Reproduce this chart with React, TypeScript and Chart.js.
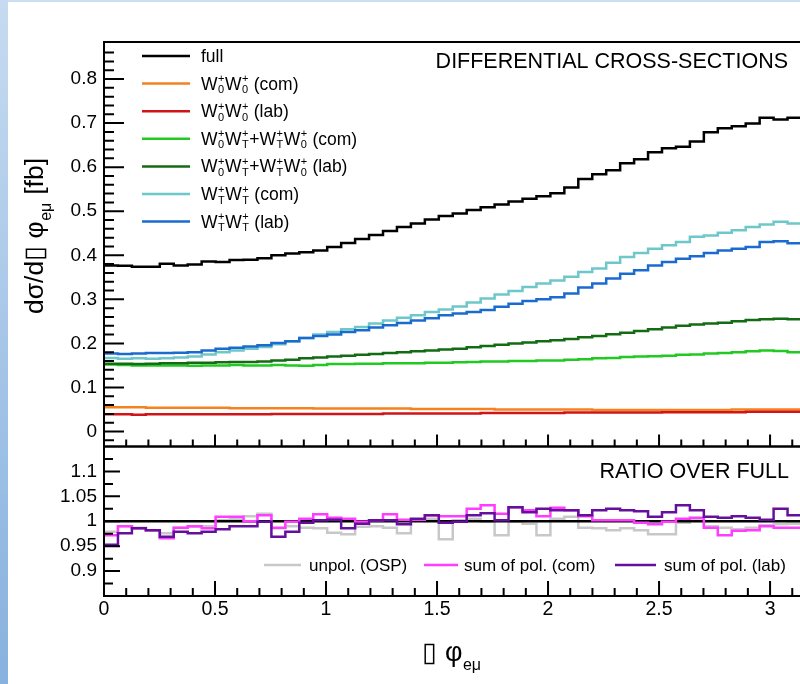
import React, { useEffect, useRef } from "react";
import { Chart, registerables } from "chart.js";

Chart.register(...registerables);

// ---------------- data ----------------
const N_BINS = 50;
const X_MAX = Math.PI;
const BIN_EDGES = Array.from({ length: N_BINS + 1 }, (_, i) => (i * X_MAX) / N_BINS);

const X_TICKS = [0, 0.5, 1, 1.5, 2, 2.5, 3];
const Y_TICKS = [0, 0.1, 0.2, 0.3, 0.4, 0.5, 0.6, 0.7, 0.8];
const RATIO_TICKS = [0.9, 0.95, 1, 1.05, 1.1];

const FULL = [0.377, 0.376, 0.374, 0.374, 0.381, 0.377, 0.379, 0.386, 0.385, 0.389, 0.390, 0.393, 0.400, 0.404, 0.407, 0.411, 0.419, 0.428, 0.437, 0.446, 0.455, 0.464, 0.472, 0.481, 0.489, 0.495, 0.503, 0.509, 0.515, 0.522, 0.528, 0.534, 0.541, 0.554, 0.573, 0.584, 0.593, 0.609, 0.618, 0.634, 0.643, 0.646, 0.658, 0.679, 0.688, 0.693, 0.699, 0.712, 0.708, 0.712];
const W00_COM = [0.055, 0.055, 0.055, 0.054, 0.054, 0.054, 0.054, 0.054, 0.054, 0.053, 0.053, 0.053, 0.053, 0.053, 0.053, 0.052, 0.052, 0.052, 0.052, 0.052, 0.052, 0.052, 0.051, 0.051, 0.051, 0.051, 0.051, 0.051, 0.050, 0.050, 0.050, 0.050, 0.050, 0.050, 0.050, 0.049, 0.049, 0.049, 0.049, 0.049, 0.049, 0.049, 0.049, 0.049, 0.049, 0.050, 0.050, 0.050, 0.050, 0.050];
const W00_LAB = [0.039, 0.039, 0.038, 0.039, 0.039, 0.039, 0.039, 0.039, 0.039, 0.039, 0.039, 0.039, 0.040, 0.040, 0.040, 0.040, 0.040, 0.040, 0.040, 0.040, 0.041, 0.041, 0.041, 0.041, 0.041, 0.041, 0.041, 0.042, 0.042, 0.042, 0.042, 0.042, 0.042, 0.043, 0.043, 0.043, 0.043, 0.043, 0.043, 0.043, 0.044, 0.044, 0.044, 0.044, 0.044, 0.044, 0.045, 0.045, 0.045, 0.045];
const W0T_COM = [0.152, 0.151, 0.150, 0.150, 0.150, 0.150, 0.149, 0.150, 0.150, 0.151, 0.150, 0.150, 0.151, 0.150, 0.149, 0.151, 0.153, 0.153, 0.154, 0.154, 0.155, 0.155, 0.155, 0.156, 0.156, 0.157, 0.158, 0.159, 0.159, 0.160, 0.160, 0.161, 0.161, 0.163, 0.164, 0.166, 0.167, 0.169, 0.170, 0.171, 0.172, 0.174, 0.175, 0.177, 0.178, 0.180, 0.182, 0.184, 0.183, 0.180];
const W0T_LAB = [0.154, 0.154, 0.153, 0.154, 0.155, 0.155, 0.156, 0.156, 0.157, 0.158, 0.158, 0.159, 0.161, 0.163, 0.166, 0.168, 0.170, 0.172, 0.174, 0.176, 0.178, 0.180, 0.182, 0.184, 0.186, 0.188, 0.191, 0.194, 0.197, 0.200, 0.202, 0.205, 0.207, 0.210, 0.214, 0.217, 0.221, 0.224, 0.228, 0.232, 0.236, 0.240, 0.243, 0.245, 0.247, 0.250, 0.253, 0.255, 0.256, 0.255];
const WTT_COM = [0.167, 0.165, 0.166, 0.165, 0.166, 0.168, 0.170, 0.175, 0.180, 0.184, 0.188, 0.192, 0.198, 0.205, 0.212, 0.220, 0.226, 0.232, 0.237, 0.245, 0.252, 0.258, 0.264, 0.271, 0.277, 0.284, 0.293, 0.302, 0.311, 0.319, 0.328, 0.336, 0.343, 0.351, 0.362, 0.370, 0.383, 0.396, 0.405, 0.415, 0.423, 0.430, 0.442, 0.445, 0.451, 0.457, 0.464, 0.470, 0.476, 0.472];
const WTT_LAB = [0.177, 0.176, 0.177, 0.178, 0.178, 0.179, 0.180, 0.184, 0.188, 0.190, 0.193, 0.196, 0.201, 0.205, 0.212, 0.217, 0.220, 0.226, 0.230, 0.236, 0.241, 0.246, 0.252, 0.257, 0.264, 0.268, 0.271, 0.276, 0.283, 0.290, 0.296, 0.300, 0.305, 0.313, 0.327, 0.336, 0.347, 0.358, 0.366, 0.377, 0.385, 0.392, 0.398, 0.405, 0.411, 0.415, 0.419, 0.430, 0.432, 0.427];

const RATIO_UNPOL = [0.979, 0.990, 0.987, 0.982, 0.976, 0.987, 0.989, 0.990, 1.002, 1.005, 1.010, 1.015, 0.986, 0.990, 0.987, 0.986, 0.977, 0.974, 0.989, 0.990, 0.987, 0.976, 1.002, 1.005, 0.964, 1.002, 1.005, 0.999, 0.972, 0.999, 0.995, 0.972, 1.005, 1.009, 0.987, 0.986, 0.982, 0.986, 0.982, 0.974, 0.974, 0.997, 1.002, 0.990, 0.987, 0.984, 0.987, 0.992, 0.994, 0.995];
const RATIO_SUM_COM = [0.972, 0.990, 0.986, 0.982, 0.966, 0.987, 0.990, 0.986, 1.009, 1.009, 1.000, 1.012, 0.987, 0.999, 1.005, 1.014, 1.007, 1.005, 0.999, 1.002, 1.014, 1.003, 1.003, 1.012, 1.010, 1.010, 1.025, 1.032, 1.015, 1.028, 1.022, 1.010, 1.027, 1.022, 1.010, 1.002, 1.002, 1.002, 0.997, 0.994, 0.999, 1.005, 1.007, 0.987, 0.972, 0.981, 0.982, 0.990, 0.987, 0.987];
const RATIO_SUM_LAB = [0.953, 0.976, 0.986, 0.982, 0.969, 0.979, 0.976, 0.979, 0.984, 0.990, 0.990, 0.999, 0.969, 0.979, 0.997, 1.002, 1.003, 0.986, 0.995, 1.002, 1.002, 0.994, 1.005, 1.012, 0.997, 0.999, 1.012, 1.016, 1.002, 1.028, 1.018, 1.025, 1.022, 1.022, 1.012, 1.022, 1.025, 1.022, 1.020, 1.009, 1.018, 1.032, 1.022, 1.009, 1.007, 1.010, 1.007, 1.003, 1.025, 1.012];
const RATIO_FULL = FULL.map((v) => v / v);

const UPPER_RANGE = [-0.034, 0.884];
const RATIO_RANGE = [0.85, 1.15];

// ---------------- styling / layout ----------------
const FONT = '"Liberation Sans", Arial, Helvetica, sans-serif';
const CANVAS_W = 806;
const CANVAS_H = 684;
const PLOT_LEFT = 104;
const PLOT_RIGHT = 801.5;
const PLOT_TOP = 42;
const PANEL_SPLIT = 446.5;
const PLOT_BOTTOM = 596;
const X_AXIS_H = 40;

type Part = { t: string; sub?: string; sup?: string };

const W00 = (tag: string): Part[] => [{ t: "W", sub: "0", sup: "+" }, { t: "W", sub: "0", sup: "+" }, { t: tag }];
const W0T = (tag: string): Part[] => [
  { t: "W", sub: "0", sup: "+" }, { t: "W", sub: "T", sup: "+" }, { t: "+" },
  { t: "W", sub: "T", sup: "+" }, { t: "W", sub: "0", sup: "+" }, { t: tag },
];
const WTT = (tag: string): Part[] => [{ t: "W", sub: "T", sup: "+" }, { t: "W", sub: "T", sup: "+" }, { t: tag }];

const UPPER_SERIES = [
  { key: "full", data: FULL, color: "#000000", legend: [{ t: "full" }] as Part[] },
  { key: "w00com", data: W00_COM, color: "#f5821f", legend: W00(" (com)") },
  { key: "w00lab", data: W00_LAB, color: "#d01418", legend: W00(" (lab)") },
  { key: "w0tcom", data: W0T_COM, color: "#22c922", legend: W0T(" (com)") },
  { key: "w0tlab", data: W0T_LAB, color: "#136b13", legend: W0T(" (lab)") },
  { key: "wttcom", data: WTT_COM, color: "#6ec7c9", legend: WTT(" (com)") },
  { key: "wttlab", data: WTT_LAB, color: "#1b6bcf", legend: WTT(" (lab)") },
];

const RATIO_SERIES = [
  { key: "unpol", data: RATIO_UNPOL, color: "#c8c8c8", label: "unpol. (OSP)" },
  { key: "full", data: RATIO_FULL, color: "#000000", label: "" },
  { key: "sumcom", data: RATIO_SUM_COM, color: "#ff3cff", label: "sum of pol. (com)" },
  { key: "sumlab", data: RATIO_SUM_LAB, color: "#65109c", label: "sum of pol. (lab)" },
];

function hist(values: number[]) {
  const pts = values.map((v, i) => ({ x: BIN_EDGES[i], y: v }));
  pts.push({ x: BIN_EDGES[values.length], y: values[values.length - 1] });
  return pts;
}

function dataset(label: string, values: number[], color: string, order: number, width = 2.5) {
  return {
    label,
    data: hist(values),
    borderColor: color,
    backgroundColor: color,
    borderWidth: width,
    pointRadius: 0,
    stepped: "before" as const,
    fill: false,
    order,
    borderJoinStyle: "miter" as const,
    borderCapStyle: "butt" as const,
  };
}

function drawRich(
  ctx: CanvasRenderingContext2D, parts: Part[], x: number, y: number,
  size: number, small: number, subDy: number, supDy: number, measureOnly = false
) {
  let cx = x;
  ctx.textAlign = "left";
  ctx.textBaseline = "alphabetic";
  for (const p of parts) {
    if (p.t) {
      ctx.font = `${size}px ${FONT}`;
      if (!measureOnly) ctx.fillText(p.t, cx, y);
      cx += ctx.measureText(p.t).width;
    }
    if (p.sub || p.sup) {
      ctx.font = `${small}px ${FONT}`;
      let w = 0;
      if (p.sup) {
        if (!measureOnly) ctx.fillText(p.sup, cx + 0.5, y - supDy);
        w = Math.max(w, ctx.measureText(p.sup).width);
      }
      if (p.sub) {
        if (!measureOnly) ctx.fillText(p.sub, cx + 0.5, y + subDy);
        w = Math.max(w, ctx.measureText(p.sub).width);
      }
      cx += w + 1;
    }
  }
  return cx - x;
}

function yAxis(range: number[], ticks: number[], size: number) {
  return {
    type: "linear" as const,
    position: "left" as const,
    min: range[0],
    max: range[1],
    grid: { display: false, drawTicks: false },
    border: { display: false },
    ticks: {
      padding: 7,
      color: "#000",
      autoSkip: false,
      font: { family: FONT, size },
      callback: (v: any) => String(v),
    },
    afterBuildTicks: (s: any) => {
      s.ticks = ticks.map((v) => ({ value: v }));
    },
    afterFit: (s: any) => {
      s.width = PLOT_LEFT;
    },
  };
}

function framePlugin(kind: "upper" | "lower") {
  return {
    id: "rootFrame_" + kind,
    afterDatasetsDraw(chart: any) {
      const { ctx, chartArea: a, scales } = chart;
      const xs = scales.x;
      const ys = scales.y;
      ctx.save();
      ctx.strokeStyle = "#000";
      ctx.lineWidth = 2;
      ctx.strokeRect(a.left, a.top, a.right - a.left, a.bottom - a.top);

      const yMajor = kind === "upper" ? Y_TICKS : RATIO_TICKS;
      const yStep = kind === "upper" ? 0.02 : 0.025;
      const yMaj = kind === "upper" ? 20 : 16;
      const yMin = kind === "upper" ? 10 : 9;
      ctx.beginPath();
      for (let k = Math.ceil(ys.min / yStep - 1e-6); k * yStep <= ys.max + 1e-9; k++) {
        const v = k * yStep;
        const py = ys.getPixelForValue(v);
        if (py < a.top + 2 || py > a.bottom - 2) continue;
        const major = yMajor.some((m) => Math.abs(m - v) < 1e-6);
        ctx.moveTo(a.left, py);
        ctx.lineTo(a.left + (major ? yMaj : yMin), py);
      }
      const xMaj = kind === "upper" ? 12 : 15;
      const xMin = kind === "upper" ? 7 : 8;
      for (let k = 1; k * 0.1 <= xs.max; k++) {
        const v = k * 0.1;
        const px = xs.getPixelForValue(v);
        const major = X_TICKS.some((m) => Math.abs(m - v) < 1e-6);
        ctx.moveTo(px, a.bottom);
        ctx.lineTo(px, a.bottom - (major ? xMaj : xMin));
      }
      ctx.stroke();
      ctx.restore();
    },
    afterDraw(chart: any) {
      const { ctx } = chart;
      ctx.save();
      ctx.fillStyle = "#000";
      if (kind === "upper") {
        ctx.font = `21.5px ${FONT}`;
        ctx.textAlign = "right";
        ctx.textBaseline = "alphabetic";
        ctx.fillText("DIFFERENTIAL CROSS-SECTIONS", 788, 68);
        UPPER_SERIES.forEach((s, i) => {
          const ly = 56 + i * 27.6;
          ctx.strokeStyle = s.color;
          ctx.lineWidth = 2.5;
          ctx.beginPath();
          ctx.moveTo(142, ly);
          ctx.lineTo(190, ly);
          ctx.stroke();
          ctx.fillStyle = "#000";
          drawRich(ctx, s.legend, 201, ly + 6, 17.5, 11, 3.5, 7.5);
        });
        const yParts: Part[] = [{ t: "dσ/d▯ φ", sub: "eμ" }, { t: " [fb]" }];
        const w = drawRich(ctx, yParts, 0, 0, 26.5, 16, 7.5, 0, true);
        ctx.translate(43, 236 + w / 2);
        ctx.rotate(-Math.PI / 2);
        drawRich(ctx, yParts, 0, 0, 26.5, 16, 7.5, 0);
      } else {
        ctx.font = `21.5px ${FONT}`;
        ctx.textAlign = "right";
        ctx.textBaseline = "alphabetic";
        ctx.fillText("RATIO OVER FULL", 789, 478);
        const entries = [
          { s: RATIO_SERIES[0], x0: 264, x1: 301, tx: 309 },
          { s: RATIO_SERIES[2], x0: 424, x1: 458, tx: 464 },
          { s: RATIO_SERIES[3], x0: 615, x1: 656, tx: 664 },
        ];
        const ly = 565;
        entries.forEach((e) => {
          ctx.strokeStyle = e.s.color;
          ctx.lineWidth = 2.5;
          ctx.beginPath();
          ctx.moveTo(e.x0, ly);
          ctx.lineTo(e.x1, ly);
          ctx.stroke();
          ctx.fillStyle = "#000";
          ctx.font = `17px ${FONT}`;
          ctx.textAlign = "left";
          ctx.fillText(e.s.label, e.tx, ly + 6);
        });
        const xParts: Part[] = [{ t: "▯ φ", sub: "eμ" }];
        const w = drawRich(ctx, xParts, 0, 0, 27, 16, 8.5, 0, true);
        drawRich(ctx, xParts, 452 - w / 2, 661, 27, 16, 8.5, 0);
      }
      ctx.restore();
    },
  };
}

export default function App() {
  const upperRef = useRef<HTMLCanvasElement>(null);
  const lowerRef = useRef<HTMLCanvasElement>(null);

  useEffect(() => {
    document.body.style.margin = "0";
    document.body.style.overflow = "hidden";
    const n = UPPER_SERIES.length;
    const upper = new Chart(upperRef.current!, {
      type: "line",
      data: {
        datasets: UPPER_SERIES.map((s, i) => dataset(s.key, s.data, s.color, n - i)),
      },
      options: {
        responsive: false,
        animation: false,
        events: [],
        layout: {
          padding: { left: 0, top: PLOT_TOP, right: CANVAS_W - PLOT_RIGHT, bottom: CANVAS_H - PANEL_SPLIT },
        },
        plugins: { legend: { display: false }, tooltip: { enabled: false } },
        scales: {
          x: { type: "linear", min: 0, max: X_MAX, display: false },
          y: yAxis(UPPER_RANGE, Y_TICKS, 19),
        },
      } as any,
      plugins: [framePlugin("upper")],
    });

    const m = RATIO_SERIES.length;
    const lower = new Chart(lowerRef.current!, {
      type: "line",
      data: {
        datasets: RATIO_SERIES.map((s, i) => dataset(s.key, s.data, s.color, m - i)),
      },
      options: {
        responsive: false,
        animation: false,
        events: [],
        layout: {
          padding: { left: 0, top: PANEL_SPLIT, right: CANVAS_W - PLOT_RIGHT, bottom: CANVAS_H - PLOT_BOTTOM - X_AXIS_H },
        },
        plugins: { legend: { display: false }, tooltip: { enabled: false } },
        scales: {
          x: {
            type: "linear",
            min: 0,
            max: X_MAX,
            grid: { display: false, drawTicks: false },
            border: { display: false },
            ticks: {
              padding: 2,
              color: "#000",
              autoSkip: false,
              maxRotation: 0,
              font: { family: FONT, size: 19.5 },
              callback: (v: any) => String(v),
            },
            afterBuildTicks: (s: any) => {
              s.ticks = X_TICKS.map((v) => ({ value: v }));
            },
            afterFit: (s: any) => {
              s.height = X_AXIS_H;
            },
          },
          y: yAxis(RATIO_RANGE, RATIO_TICKS, 19),
        },
      } as any,
      plugins: [framePlugin("lower")],
    });

    return () => {
      upper.destroy();
      lower.destroy();
    };
  }, []);

  return (
    <div
      style={{
        position: "fixed",
        left: 0,
        top: 0,
        width: 800,
        height: 684,
        overflow: "hidden",
        background: "#ffffff",
      }}
    >
      <div style={{ position: "absolute", left: 0, top: 0, width: 800, height: 2, background: "#cadff4" }} />
      <div
        style={{
          position: "absolute",
          left: 0,
          top: 0,
          width: 8,
          height: 684,
          background: "linear-gradient(to bottom, #c6dbf1, #87b1de)",
        }}
      />
      <canvas ref={upperRef} width={CANVAS_W} height={CANVAS_H} style={{ position: "absolute", left: 0, top: 0 }} />
      <canvas ref={lowerRef} width={CANVAS_W} height={CANVAS_H} style={{ position: "absolute", left: 0, top: 0 }} />
    </div>
  );
}
